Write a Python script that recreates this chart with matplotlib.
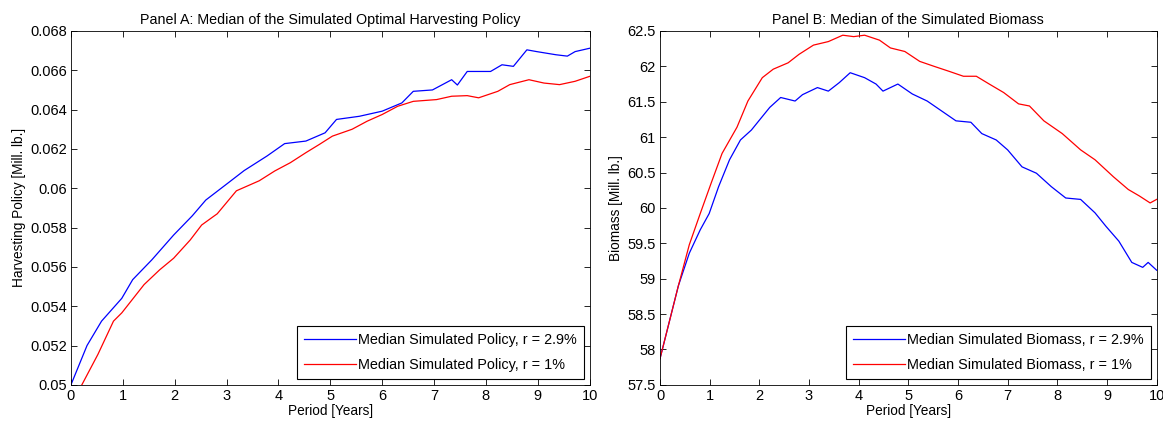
import matplotlib
matplotlib.use("Agg")
import matplotlib.pyplot as plt
from matplotlib.ticker import FuncFormatter, MultipleLocator

# Panel A: median simulated harvesting policy (Mill. lb.)
policy_t_hi = [0, 0.31, 0.59, 0.98, 1.19, 1.56, 1.98, 2.34, 2.6, 3.04, 3.34, 3.78, 4.12,
               4.53, 4.9, 5.12, 5.56, 6.0, 6.38, 6.6, 6.97, 7.34, 7.45, 7.64, 8.09, 8.31,
               8.53, 8.79, 8.98, 9.35, 9.57, 9.72, 10.0]
policy_hi = [0.0500, 0.0520, 0.05324, 0.0544, 0.05535, 0.05636, 0.05762, 0.0586, 0.0594,
             0.06029, 0.0609, 0.06164, 0.06227, 0.0624, 0.06282, 0.0635, 0.06366, 0.06392,
             0.06434, 0.06493, 0.0650, 0.06552, 0.06525, 0.06594, 0.06594, 0.06628, 0.0662,
             0.06704, 0.06695, 0.06679, 0.06672, 0.06695, 0.06712]
policy_t_lo = [0.21, 0.52, 0.82, 0.98, 1.41, 1.71, 1.98, 2.3, 2.52, 2.74, 2.82, 3.19, 3.63,
               3.93, 4.23, 4.53, 4.79, 5.04, 5.42, 5.71, 6.0, 6.3, 6.6, 7.05, 7.34, 7.64,
               7.86, 8.23, 8.46, 8.83, 9.12, 9.42, 9.72, 10.0]
policy_lo = [0.0500, 0.05155, 0.05324, 0.05366, 0.0551, 0.05585, 0.05644, 0.05737, 0.05813,
             0.05855, 0.0587, 0.05987, 0.06038, 0.06088, 0.0613, 0.06181, 0.06223, 0.06265,
             0.0630, 0.06341, 0.06375, 0.06417, 0.06442, 0.06451, 0.06468, 0.06471, 0.0646,
             0.06493, 0.06527, 0.06552, 0.06535, 0.06527, 0.06544, 0.06569]

# Panel B: median simulated biomass (Mill. lb.)
bio_t_hi = [0, 0.37, 0.59, 0.81, 0.99, 1.18, 1.4, 1.62, 1.84, 1.99, 2.21, 2.43, 2.72, 2.87,
            3.17, 3.39, 3.61, 3.83, 4.12, 4.35, 4.49, 4.79, 5.08, 5.38, 5.67, 5.96, 6.26,
            6.48, 6.77, 7.0, 7.29, 7.58, 7.88, 8.17, 8.47, 8.76, 8.98, 9.24, 9.5, 9.72,
            9.83, 10.0]
bio_hi = [57.87, 58.9, 59.36, 59.69, 59.92, 60.3, 60.68, 60.96, 61.1, 61.23, 61.42, 61.56,
          61.51, 61.6, 61.7, 61.65, 61.77, 61.91, 61.84, 61.75, 61.65, 61.75, 61.61, 61.51,
          61.37, 61.23, 61.21, 61.05, 60.96, 60.82, 60.58, 60.49, 60.3, 60.14, 60.12, 59.93,
          59.74, 59.53, 59.23, 59.16, 59.23, 59.12]
bio_t_lo = [0, 0.37, 0.59, 0.81, 1.03, 1.25, 1.55, 1.77, 2.06, 2.28, 2.58, 2.8, 3.09, 3.39,
            3.68, 3.9, 4.12, 4.42, 4.64, 4.93, 5.23, 5.52, 5.82, 6.11, 6.37, 6.63, 6.92,
            7.22, 7.44, 7.73, 8.1, 8.47, 8.76, 9.13, 9.43, 9.65, 9.87, 10.0]
bio_lo = [57.87, 58.9, 59.48, 59.92, 60.35, 60.77, 61.14, 61.51, 61.84, 61.96, 62.05, 62.17,
          62.3, 62.35, 62.44, 62.42, 62.44, 62.37, 62.26, 62.21, 62.07, 62.0, 61.93, 61.86,
          61.86, 61.75, 61.63, 61.47, 61.44, 61.23, 61.05, 60.82, 60.68, 60.44, 60.26, 60.17,
          60.07, 60.12]

plt.rcParams["font.family"] = ["Liberation Sans", "DejaVu Sans"]

fig = plt.figure(figsize=(11.63, 4.30), dpi=100)
ax1 = fig.add_axes([0.061, 0.105, 0.446, 0.823])
ax2 = fig.add_axes([0.5675, 0.105, 0.427, 0.823])

g = FuncFormatter(lambda v, p: "%g" % round(v, 6))


def matlab_style(ax):
    ax.tick_params(direction="in", top=True, right=True, length=4, width=0.6,
                   labelsize=10.5, pad=3)
    for s in ax.spines.values():
        s.set_linewidth(0.6)
    ax.set_xlim(0, 10)
    ax.xaxis.set_major_locator(MultipleLocator(1))
    ax.yaxis.set_major_formatter(g)
    ax.set_xlabel("Period [Years]", fontsize=9.8, labelpad=1)


def add_legend(ax):
    leg = ax.legend(loc="lower right", fontsize=10.4, fancybox=False, edgecolor="black",
                    framealpha=1, borderpad=0.5, handlelength=3.6, handletextpad=0.15,
                    labelspacing=0.75, borderaxespad=0.4)
    leg.get_frame().set_linewidth(0.8)


ax1.plot(policy_t_hi, policy_hi, color="blue", lw=0.9, label="Median Simulated Policy, r = 2.9%")
ax1.plot(policy_t_lo, policy_lo, color="red", lw=0.9, label="Median Simulated Policy, r = 1%")
matlab_style(ax1)
ax1.set_ylim(0.05, 0.068)
ax1.yaxis.set_major_locator(MultipleLocator(0.002))
ax1.set_ylabel("Harvesting Policy [Mill. lb.]", fontsize=9.8, labelpad=3)
ax1.set_title("Panel A: Median of the Simulated Optimal Harvesting Policy", fontsize=10.3, pad=5)
add_legend(ax1)

ax2.plot(bio_t_hi, bio_hi, color="blue", lw=0.9, label="Median Simulated Biomass, r = 2.9%")
ax2.plot(bio_t_lo, bio_lo, color="red", lw=0.9, label="Median Simulated Biomass, r = 1%")
matlab_style(ax2)
ax2.set_ylim(57.5, 62.5)
ax2.yaxis.set_major_locator(MultipleLocator(0.5))
ax2.set_ylabel("Biomass [Mill. lb.]", fontsize=9.8, labelpad=3)
ax2.set_title("Panel B: Median of the Simulated Biomass", fontsize=10.3, pad=5)
add_legend(ax2)

fig.savefig("out.png", dpi=100)
